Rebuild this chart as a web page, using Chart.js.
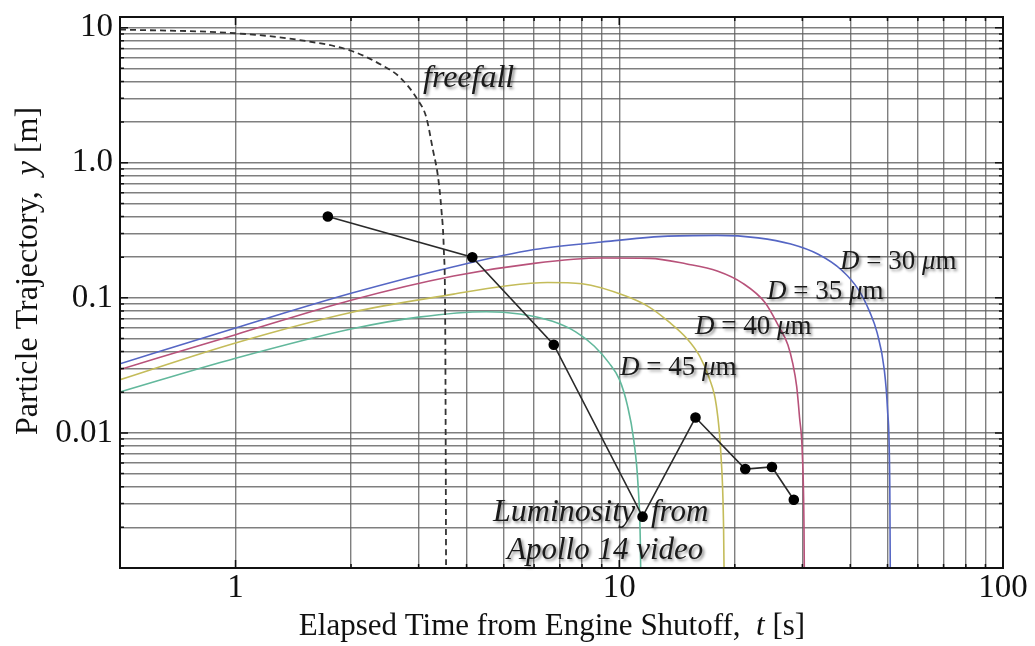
<!DOCTYPE html>
<html>
<head>
<meta charset="utf-8">
<script src="https://cdn.jsdelivr.net/npm/chart.js@4.4.1/dist/chart.umd.min.js"></script>
<style>
  html, body { margin: 0; padding: 0; background: #fff; }
</style>
</head>
<body>
<canvas id="trajChart" width="1035" height="646"></canvas>
<script>
const serif = "'Liberation Serif', 'Times New Roman', serif";

// freefall from rest (dashed)
const tFreefall = [0.5, 1, 1.47, 2, 2.4, 2.68, 2.99, 3.14, 3.27, 3.37, 3.44, 3.49, 3.52, 3.54];
const yFreefall = [9.7, 9.1, 8.1, 6.75, 5.3, 4.3, 2.9, 2.18, 1.24, 0.79, 0.448, 0.227, 0.06, 0.0005];

// particle trajectories for each grain diameter
const tD30 = [0.5, 1, 2, 3.7, 6, 9, 13, 18, 23, 28, 33, 38, 42, 45, 47, 49, 50, 50.7, 50.9];
const yD30 = [0.0325, 0.0598, 0.108, 0.170, 0.228, 0.259, 0.285, 0.290, 0.278, 0.250, 0.210, 0.160, 0.115, 0.078, 0.055, 0.030, 0.015, 0.004, 0.0005];

const tD35 = [0.5, 1, 2, 3.7, 6, 9, 12, 15, 18, 21, 24, 26, 27.5, 28.3, 29, 29.5, 30, 30.3, 30.4];
const yD35 = [0.0295, 0.0534, 0.096, 0.145, 0.180, 0.197, 0.196, 0.178, 0.158, 0.128, 0.092, 0.062, 0.045, 0.033, 0.022, 0.013, 0.007, 0.002, 0.0005];

const tD40 = [0.5, 1, 2, 3.7, 5, 6.5, 8, 10.4, 12, 13.5, 15, 16.2, 17.2, 17.9, 18.4, 18.7, 18.8];
const yD40 = [0.0248, 0.0464, 0.078, 0.1065, 0.122, 0.130, 0.127, 0.103, 0.085, 0.066, 0.050, 0.037, 0.025, 0.016, 0.007, 0.002, 0.0005];

const tD45 = [0.5, 1, 2, 3, 4.5, 5.5, 6.7, 7.7, 8.6, 9.4, 10.0, 10.5, 10.9, 11.2, 11.35, 11.4];
const yD45 = [0.0201, 0.0357, 0.0588, 0.072, 0.079, 0.076, 0.067, 0.056, 0.044, 0.033, 0.025, 0.016, 0.009, 0.004, 0.0015, 0.0005];

// luminosity measurements from the video
const tLum = [1.74, 4.14, 6.75, 11.5, 15.8, 21.3, 25.0, 28.5];
const yLum = [0.40, 0.20, 0.045, 0.0024, 0.013, 0.0054, 0.0056, 0.0032];

// gridlines and labelled ticks
const xTicks = [1, 2, 3, 4, 5, 6, 7, 8, 9, 10, 20, 30, 40, 50, 60, 70, 80, 90, 100];
const xLabelValues = [1, 10, 100];
const xLabelText = ['1', '10', '100'];
const yTicks = [0.002, 0.003, 0.004, 0.005, 0.006, 0.007, 0.008, 0.009,
                0.01, 0.02, 0.03, 0.04, 0.05, 0.06, 0.07, 0.08, 0.09,
                0.1, 0.2, 0.3, 0.4, 0.5, 0.6, 0.7, 0.8, 0.9,
                1, 2, 3, 4, 5, 6, 7, 8, 9, 10];
const yLabelValues = [0.01, 0.1, 1, 10];
const yLabelText = ['0.01', '0.1', '1.0', '10'];

function points(ts, ys) {
  return ts.map((t, i) => ({ x: t, y: ys[i] }));
}

function labelFor(values, texts, v) {
  const i = values.findIndex(u => Math.abs(u - v) / u < 1e-6);
  return i >= 0 ? texts[i] : '';
}

// draws a row of text pieces, some italic
function drawRuns(ctx, runs, x, y, size, align) {
  const widths = runs.map(r => {
    ctx.font = (r[1] ? 'italic ' : '') + size + 'px ' + serif;
    return ctx.measureText(r[0]).width;
  });
  const total = widths.reduce((a, b) => a + b, 0);
  let cx = align === 'center' ? x - total / 2 : x;
  ctx.textAlign = 'left';
  ctx.textBaseline = 'middle';
  runs.forEach((r, i) => {
    ctx.font = (r[1] ? 'italic ' : '') + size + 'px ' + serif;
    ctx.fillText(r[0], cx, y);
    cx += widths[i];
  });
}

const annotations = {
  id: 'annotations',
  afterDraw(chart) {
    const ctx = chart.ctx;
    const a = chart.chartArea;
    const xs = chart.scales.x, ys = chart.scales.y;

    ctx.save();
    // frame with short inward ticks
    ctx.strokeStyle = '#111';
    ctx.lineWidth = 2;
    ctx.strokeRect(a.left, a.top, a.right - a.left, a.bottom - a.top);
    ctx.lineWidth = 1.5;
    ctx.beginPath();
    yTicks.forEach(v => {
      const py = ys.getPixelForValue(v);
      const len = yLabelValues.includes(v) ? 8 : 4;
      ctx.moveTo(a.left, py); ctx.lineTo(a.left + len, py);
      ctx.moveTo(a.right, py); ctx.lineTo(a.right - len, py);
    });
    xTicks.forEach(v => {
      const px = xs.getPixelForValue(v);
      const len = xLabelValues.includes(v) ? 8 : 4;
      ctx.moveTo(px, a.bottom); ctx.lineTo(px, a.bottom - len);
      ctx.moveTo(px, a.top); ctx.lineTo(px, a.top + len);
    });
    ctx.stroke();

    // axis titles
    ctx.fillStyle = '#111';
    drawRuns(ctx, [['Elapsed Time from Engine Shutoff,  ', false], ['t', true], [' [s]', false]], 552, 627, 31, 'center');
    ctx.save();
    ctx.translate(29, 271);
    ctx.rotate(-Math.PI / 2);
    drawRuns(ctx, [['Particle Trajectory,  ', false], ['y', true], [' [m]', false]], 0, 0, 32, 'center');
    ctx.restore();

    // curve labels with soft shadow
    ctx.shadowColor = 'rgba(0,0,0,0.45)';
    ctx.shadowOffsetX = 2;
    ctx.shadowOffsetY = 2;
    ctx.shadowBlur = 3;
    ctx.fillStyle = '#1a1a1a';
    const dLabel = d => [['D', true], [' = ' + d + ' ', false], ['\u03bc', true], ['m', false]];
    drawRuns(ctx, dLabel(30), 840, 262, 27, 'left');
    drawRuns(ctx, dLabel(35), 767, 292, 27, 'left');
    drawRuns(ctx, dLabel(40), 695, 327, 27, 'left');
    drawRuns(ctx, dLabel(45), 620, 368, 27, 'left');
    drawRuns(ctx, [['freefall', true]], 423, 79, 32, 'left');
    drawRuns(ctx, [['Luminosity', true]], 493, 513, 32, 'left');
    drawRuns(ctx, [['from', true]], 651, 513, 31, 'left');
    drawRuns(ctx, [['Apollo 14 video', true]], 507, 551, 31, 'left');
    ctx.restore();
  }
};

const curve = (data, color) => ({
  data, showLine: true, borderColor: color, borderWidth: 1.6,
  pointRadius: 0, fill: false, cubicInterpolationMode: 'monotone'
});

const ctx = document.getElementById('trajChart').getContext('2d');
const chart = new Chart(ctx, {
  type: 'scatter',
  data: {
    datasets: [
      {
        data: points(tLum, yLum), showLine: true,
        borderColor: '#2a2a2a', borderWidth: 1.6,
        pointRadius: 4.5, pointBackgroundColor: '#000', pointBorderColor: '#000'
      },
      {
        data: points(tFreefall, yFreefall), showLine: true,
        borderColor: '#333', borderWidth: 1.8, borderDash: [6, 4],
        pointRadius: 0, cubicInterpolationMode: 'monotone'
      },
      curve(points(tD30, yD30), '#5566c4'),
      curve(points(tD35, yD35), '#b8527a'),
      curve(points(tD40, yD40), '#c4bc5a'),
      curve(points(tD45, yD45), '#62b89c')
    ]
  },
  options: {
    responsive: false,
    animation: false,
    layout: { padding: { left: 0, right: 32, top: 17, bottom: 0 } },
    plugins: {
      legend: { display: false },
      tooltip: { enabled: false }
    },
    scales: {
      x: {
        type: 'logarithmic',
        min: 0.5,
        max: 100,
        afterBuildTicks: axis => { axis.ticks = xTicks.map(v => ({ value: v })); },
        afterFit: axis => {
          axis.height = 78;
          axis.paddingLeft = 0; axis.paddingRight = 0;
        },
        border: { display: false },
        grid: { color: 'rgba(95,95,95,0.8)', lineWidth: 1.4, drawTicks: false },
        ticks: {
          autoSkip: false, maxRotation: 0, padding: 1,
          color: '#111', font: { family: serif, size: 33 },
          callback: v => labelFor(xLabelValues, xLabelText, v)
        }
      },
      y: {
        type: 'logarithmic',
        min: 0.001,
        max: 12,
        afterBuildTicks: axis => { axis.ticks = yTicks.map(v => ({ value: v })); },
        afterFit: axis => {
          axis.width = 120;
          axis.paddingTop = 0; axis.paddingBottom = 0;
        },
        border: { display: false },
        grid: { color: 'rgba(95,95,95,0.8)', lineWidth: 1.4, drawTicks: false },
        ticks: {
          autoSkip: false, padding: 7,
          color: '#111', font: { family: serif, size: 33 },
          callback: v => labelFor(yLabelValues, yLabelText, v)
        }
      }
    }
  },
  plugins: [annotations]
});
</script>
</body>
</html>
